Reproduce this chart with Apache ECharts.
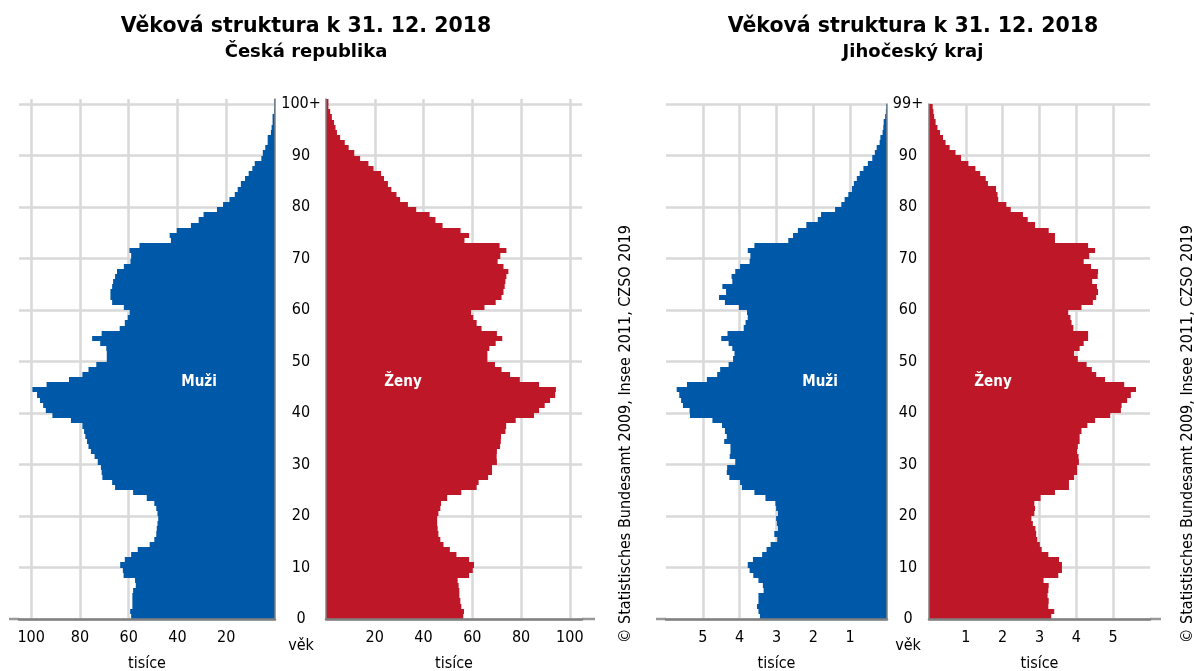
<!DOCTYPE html>
<html>
<head>
<meta charset="utf-8">
<title>Věková struktura k 31. 12. 2018</title>
<script src="https://cdn.jsdelivr.net/npm/echarts@6/dist/echarts.min.js"></script>
<style>
  html, body { margin: 0; padding: 0; background: #fff; }
  #chart { width: 1194px; height: 671px; }
</style>
</head>
<body>
<div id="chart"></div>
<script>
// ages 0 .. 100+ (Česká republika), thousands
var czMale = [59, 59.4, 58.5, 58.5, 58.5, 58.2, 57.1, 57.4, 62.1, 62.4,
  63.5, 61.6, 59, 56.3, 51.4, 49.5, 48.7, 48.5, 48.2, 47.9,
  48.2, 48.7, 49.5, 52.6, 58.2, 65.6, 66.8, 70.8, 71.1, 71.4,
  72.7, 74, 75.5, 76.5, 77.1, 77.8, 78.3, 79, 83.7, 91.3,
  94, 95.1, 96.4, 97.6, 99.5, 93.7, 84.5, 79, 76.5, 73.3,
  69, 69, 69.2, 71.7, 75, 71.1, 63.7, 61.6, 60.4, 59.6,
  62, 66.8, 67.5, 67.5, 66.8, 66.4, 65.6, 64.8, 62, 59.3,
  59, 59.7, 55.6, 42.7, 43.2, 40.3, 34.5, 31.3, 29.3, 23.8,
  21.3, 18.7, 16.5, 15.3, 14, 12.3, 10.8, 9.3, 8.3, 5.6,
  5, 4, 3, 3, 1.7, 1.4, 1.0, 1.0, 0.4, 0.3, 0.3];
var czFemale = [56.3, 56.6, 55.5, 55.1, 54.7, 54.7, 54.4, 54, 58.7, 60.2,
  60.7, 58.7, 53.5, 50.8, 48.2, 46.9, 46.1, 45.8, 45.6, 45.6,
  46.1, 46.9, 47.2, 49.7, 55.5, 61.8, 62.6, 66.5, 68.1, 68.1,
  70.1, 70, 70.1, 71.4, 71.7, 71.8, 73.6, 73.9, 77.8, 85.3,
  87.4, 89.7, 91.9, 94, 94.3, 87.4, 79.5, 75.5, 72, 69.3,
  66.2, 66.2, 67, 69.6, 72.3, 70.1, 63.8, 61.8, 60.4, 59.5,
  65, 69.6, 72, 72.8, 73.3, 73.6, 74, 74.8, 72.8, 70.4,
  71.5, 74, 71.2, 56.8, 58.7, 55.2, 47.8, 44.9, 42.5, 37,
  33.6, 30.4, 28.9, 26.8, 25.4, 23.8, 22.6, 19.5, 17.4, 14,
  11.6, 9.3, 7.7, 5.8, 4.5, 3.9, 3.3, 2.4, 1.7, 1, 1];

// ages 0 .. 99+ (Jihočeský kraj), thousands
var jcMale = [3.45, 3.49, 3.53, 3.49, 3.49, 3.35, 3.37, 3.49, 3.63, 3.73,
  3.78, 3.64, 3.39, 3.27, 3.16, 2.98, 3.06, 2.96, 2.99, 3.01,
  2.96, 3.01, 3.03, 3.3, 3.6, 3.94, 3.99, 4.28, 4.35, 4.34,
  4.12, 4.27, 4.25, 4.25, 4.42, 4.35, 4.4, 4.48, 4.74, 5.35,
  5.36, 5.54, 5.59, 5.64, 5.71, 5.43, 4.89, 4.61, 4.53, 4.3,
  4.18, 4.14, 4.2, 4.3, 4.5, 4.33, 3.89, 3.84, 3.78, 3.8,
  4.02, 4.4, 4.56, 4.37, 4.47, 4.2, 4.22, 4.12, 3.99, 3.73,
  3.71, 3.78, 3.6, 2.68, 2.55, 2.42, 2.19, 1.88, 1.79, 1.41,
  1.24, 1.15, 1.05, 0.95, 0.9, 0.82, 0.74, 0.64, 0.52, 0.4,
  0.33, 0.28, 0.2, 0.18, 0.12, 0.1, 0.09, 0.05, 0.03, 0.02];
var jcFemale = [3.32, 3.4, 3.24, 3.25, 3.22, 3.24, 3.25, 3.11, 3.51, 3.61,
  3.61, 3.53, 3.24, 3.06, 3.01, 2.94, 2.91, 2.89, 2.82, 2.78,
  2.86, 2.88, 2.86, 3.03, 3.42, 3.8, 3.8, 3.94, 4.02, 4.02,
  4.07, 4.06, 4.02, 4.04, 4.09, 4.09, 4.14, 4.3, 4.51, 4.92,
  5.21, 5.23, 5.38, 5.48, 5.62, 5.3, 4.78, 4.54, 4.42, 4.28,
  4.04, 3.94, 4.09, 4.2, 4.32, 4.32, 3.92, 3.87, 3.84, 3.78,
  4.14, 4.45, 4.54, 4.59, 4.56, 4.43, 4.58, 4.59, 4.4, 4.2,
  4.35, 4.51, 4.32, 3.42, 3.42, 3.25, 2.88, 2.68, 2.55, 2.22,
  2.1, 1.88, 1.86, 1.82, 1.6, 1.54, 1.39, 1.26, 1.07, 0.87,
  0.72, 0.56, 0.45, 0.38, 0.3, 0.23, 0.18, 0.14, 0.12, 0.1];

var titleText = 'Věková struktura k 31. 12. 2018';
var regions = ['Česká republika', 'Jihočeský kraj'];
var topLabels = ['100+', '99+'];
var source = '© Statistisches Bundesamt 2009, Insee 2011, CZSO 2019';

var BLUE = '#0058a8';
var RED = '#be1828';
var GRID = '#d9d9d9';
var AXIS = '#808080';
var COND = "'DejaVu Sans Condensed', 'DejaVu Sans', sans-serif";
var BOLD = "'DejaVu Sans', Verdana, sans-serif";
var BOTTOM = 619; // pixel row of the age 0 line

var chart = echarts.init(document.getElementById('chart'));

// one bar per age, spanning [age, age+1] on the y value axis
function renderBar(params, api) {
  var age = api.value(0);
  var v = api.value(1);
  var p0 = api.coord([0, age]);
  var p1 = api.coord([v, age + 1]);
  var y0 = Math.round(p0[1]);
  var y1 = Math.round(p1[1]);
  return {
    type: 'rect',
    shape: {
      x: Math.min(p0[0], p1[0]),
      y: y1,
      width: Math.abs(p1[0] - p0[0]),
      height: y0 - y1
    },
    style: { fill: api.visual('color') }
  };
}

function toPairs(arr) {
  return arr.map(function (v, i) { return [i, v]; });
}

// value axis with labels and grid lines, its line is drawn by the overlay axis
function xAxisFor(gridIndex, max, interval, inverse) {
  return {
    type: 'value', gridIndex: gridIndex, min: 0, max: max, interval: interval,
    inverse: inverse,
    name: 'tisíce', nameLocation: 'middle', nameGap: 37,
    nameTextStyle: { fontFamily: COND, fontSize: 16, color: '#000' },
    axisLine: { show: false },
    axisTick: { show: false },
    axisLabel: { showMinLabel: false, showMaxLabel: false, margin: 11,
      fontFamily: COND, fontSize: 16, color: '#000' },
    splitLine: { show: true, showMinLine: false, showMaxLine: false,
      lineStyle: { color: GRID, width: 2.5 } }
  };
}

function yAxisFor(gridIndex, max, labels, topLabel, margin) {
  return {
    type: 'value', gridIndex: gridIndex, min: 0, max: max, interval: 10,
    position: 'left',
    axisLine: { show: false },
    axisTick: { show: false },
    axisLabel: {
      show: labels, showMaxLabel: max === 100, align: 'center', margin: margin,
      fontFamily: COND, fontSize: 16, color: '#000',
      formatter: function (v) { return v === 100 ? topLabel : String(v); }
    },
    splitLine: { show: true, showMaxLine: max === 100,
      lineStyle: { color: GRID, width: 2.5 } }
  };
}

// bare axis lines drawn above the bars
function lineAxis(gridIndex, max, side, width) {
  return {
    type: 'value', gridIndex: gridIndex, min: 0, max: max, position: side,
    z: 5,
    axisLine: { show: true, onZero: false, lineStyle: { color: AXIS, width: width } },
    axisTick: { show: false }, axisLabel: { show: false }, splitLine: { show: false }
  };
}

function gridAt(left, top, width) {
  return { left: left, top: top, width: width, height: BOTTOM - top,
    containLabel: false, outerBoundsMode: 'none' };
}

var grids = [
  gridAt(19, 99, 256),
  gridAt(326, 99, 256),
  gridAt(666, 104, 221),
  gridAt(929, 104, 221)
];

function stub(x1, x2) {
  return { type: 'line', shape: { x1: x1, y1: BOTTOM, x2: x2, y2: BOTTOM },
    style: { stroke: '#999', lineWidth: 2.5 } };
}

function sexLabel(text, x) {
  return { type: 'text', x: x, y: 382, z: 10, style: { text: text, fill: '#fff',
    font: 'bold 15px ' + COND, align: 'center', verticalAlign: 'middle' } };
}

var option = {
  animation: false,
  backgroundColor: '#fff',
  title: [
    { text: titleText, subtext: regions[0], left: 301, top: 11, textAlign: 'center',
      itemGap: 6,
      textStyle: { fontFamily: BOLD, fontSize: 20.5, fontWeight: 'bold', color: '#000' },
      subtextStyle: { fontFamily: BOLD, fontSize: 18, fontWeight: 'bold', color: '#000' } },
    { text: titleText, subtext: regions[1], left: 908, top: 11, textAlign: 'center',
      itemGap: 6,
      textStyle: { fontFamily: BOLD, fontSize: 20.5, fontWeight: 'bold', color: '#000' },
      subtextStyle: { fontFamily: BOLD, fontSize: 18, fontWeight: 'bold', color: '#000' } }
  ],
  grid: grids,
  xAxis: [
    xAxisFor(0, 105, 20, true),
    xAxisFor(1, 105, 20, false),
    xAxisFor(2, 6, 1, true),
    xAxisFor(3, 6, 1, false),
    lineAxis(0, 105, 'bottom', 2.5),
    lineAxis(1, 105, 'bottom', 2.5),
    lineAxis(2, 6, 'bottom', 2.5),
    lineAxis(3, 6, 'bottom', 2.5)
  ],
  yAxis: [
    yAxisFor(0, 101, false, topLabels[0], 0),
    yAxisFor(1, 101, true, topLabels[0], 25),
    yAxisFor(2, 100, false, topLabels[1], 0),
    yAxisFor(3, 100, true, topLabels[1], 21),
    lineAxis(0, 101, 'right', 1.5),
    lineAxis(1, 101, 'left', 1.5),
    lineAxis(2, 100, 'right', 1.5),
    lineAxis(3, 100, 'left', 1.5)
  ],
  series: [
    { type: 'custom', name: 'Muži', xAxisIndex: 0, yAxisIndex: 0, color: BLUE,
      renderItem: renderBar, encode: { x: 1, y: 0 }, data: toPairs(czMale) },
    { type: 'custom', name: 'Ženy', xAxisIndex: 1, yAxisIndex: 1, color: RED,
      renderItem: renderBar, encode: { x: 1, y: 0 }, data: toPairs(czFemale) },
    { type: 'custom', name: 'Muži', xAxisIndex: 2, yAxisIndex: 2, color: BLUE,
      renderItem: renderBar, encode: { x: 1, y: 0 }, data: toPairs(jcMale) },
    { type: 'custom', name: 'Ženy', xAxisIndex: 3, yAxisIndex: 3, color: RED,
      renderItem: renderBar, encode: { x: 1, y: 0 }, data: toPairs(jcFemale) }
  ],
  graphic: [
    // outer stubs of the bottom axis lines
    stub(9, 19), stub(582, 595), stub(656, 666), stub(1150, 1161),
    // sex labels inside the bars
    sexLabel('Muži', 199), sexLabel('Ženy', 403),
    sexLabel('Muži', 820), sexLabel('Ženy', 993),
    // age axis name
    { type: 'text', x: 301, y: 646, style: { text: 'věk', fill: '#000',
      font: '16px ' + COND, align: 'center', verticalAlign: 'middle' } },
    { type: 'text', x: 908, y: 646, style: { text: 'věk', fill: '#000',
      font: '16px ' + COND, align: 'center', verticalAlign: 'middle' } },
    // source notes
    { type: 'text', x: 626, y: 434, rotation: Math.PI / 2, style: { text: source,
      fill: '#000', font: '16px ' + COND, align: 'center', verticalAlign: 'middle' } },
    { type: 'text', x: 1188, y: 434, rotation: Math.PI / 2, style: { text: source,
      fill: '#000', font: '16px ' + COND, align: 'center', verticalAlign: 'middle' } }
  ]
};

chart.setOption(option);
</script>
</body>
</html>
